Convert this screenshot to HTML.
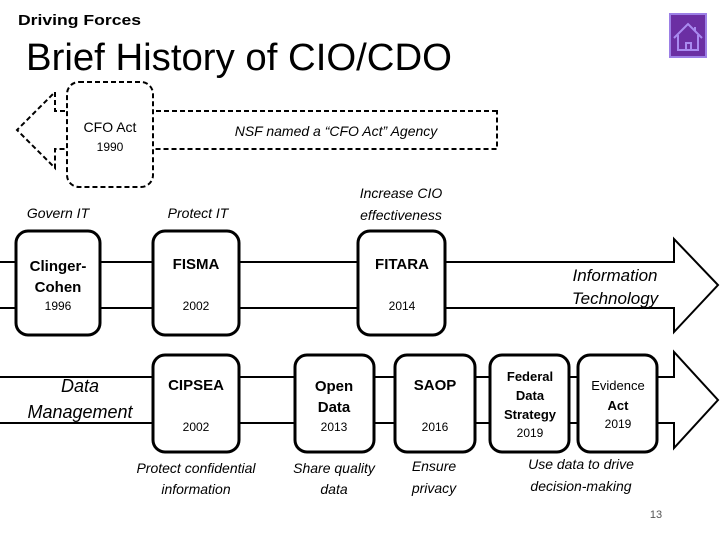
<!DOCTYPE html>
<html><head><meta charset="utf-8"><style>
html,body{margin:0;padding:0;background:#fff}
svg{display:block}
text{font-family:"Liberation Sans",sans-serif;fill:#000}
.i{font-style:italic}
.b{font-weight:bold}
</style></head><body>
<svg width="720" height="540" viewBox="0 0 720 540" xmlns="http://www.w3.org/2000/svg">
<text x="18" y="25" class="b" font-size="15" textLength="123" lengthAdjust="spacingAndGlyphs">Driving Forces</text>
<text x="26" y="70" font-size="38" textLength="426" lengthAdjust="spacingAndGlyphs">Brief History of CIO/CDO</text>
<rect x="670" y="14" width="36" height="43" fill="#6b2fa3" stroke="#9c7fe6" stroke-width="2"/>
<path d="M674 38 L688 24 L702 38 M678 35 V50 H698 V35 M686 50 V43 H691 V50 M695 27 V31" fill="none" stroke="#a98af0" stroke-width="2"/>

<path d="M497 111 H55 V92 L17 130 L55 168 V149 H497 Z" fill="#fff" stroke="#000" stroke-width="2" stroke-dasharray="5,3"/>
<rect x="67" y="82" width="86" height="105" rx="12" fill="#fff" stroke="#000" stroke-width="2" stroke-dasharray="5,3"/>
<text x="110" y="132" font-size="14" text-anchor="middle">CFO Act</text>
<text x="110" y="151" font-size="12" text-anchor="middle">1990</text>
<text x="336" y="136" font-size="14" class="i" text-anchor="middle">NSF named a “CFO Act” Agency</text>

<text x="58" y="218" class="i" font-size="14" text-anchor="middle">Govern IT</text>
<text x="198" y="218" class="i" font-size="14" text-anchor="middle">Protect IT</text>
<text x="401" y="198" class="i" font-size="14" text-anchor="middle">Increase CIO</text>
<text x="401" y="220" class="i" font-size="14" text-anchor="middle">effectiveness</text>

<path d="M0 262 H674 V239 L718 285 L674 332 V308 H0" fill="#fff" stroke="#000" stroke-width="2"/>
<rect x="16" y="231" width="84" height="104" rx="12" fill="#fff" stroke="#000" stroke-width="3"/>
<rect x="153" y="231" width="86" height="104" rx="12" fill="#fff" stroke="#000" stroke-width="3"/>
<rect x="358" y="231" width="87" height="104" rx="12" fill="#fff" stroke="#000" stroke-width="3"/>
<text x="58" y="271" font-size="15" class="b" text-anchor="middle">Clinger-</text>
<text x="58" y="292" font-size="15" class="b" text-anchor="middle">Cohen</text>
<text x="58" y="310" font-size="12" text-anchor="middle">1996</text>
<text x="196" y="269" font-size="15" class="b" text-anchor="middle">FISMA</text>
<text x="196" y="310" font-size="12" text-anchor="middle">2002</text>
<text x="402" y="269" font-size="15" class="b" text-anchor="middle">FITARA</text>
<text x="402" y="310" font-size="12" text-anchor="middle">2014</text>
<text x="615" y="281" font-size="17" class="i" text-anchor="middle">Information</text>
<text x="615" y="304" font-size="17" class="i" text-anchor="middle">Technology</text>

<path d="M0 377 H674 V352 L718 400 L674 448 V423 H0" fill="#fff" stroke="#000" stroke-width="2"/>
<rect x="153" y="355" width="86" height="97" rx="12" fill="#fff" stroke="#000" stroke-width="3"/>
<rect x="295" y="355" width="79" height="97" rx="12" fill="#fff" stroke="#000" stroke-width="3"/>
<rect x="395" y="355" width="80" height="97" rx="12" fill="#fff" stroke="#000" stroke-width="3"/>
<rect x="490" y="355" width="79" height="97" rx="12" fill="#fff" stroke="#000" stroke-width="3"/>
<rect x="578" y="355" width="79" height="97" rx="12" fill="#fff" stroke="#000" stroke-width="3"/>
<text x="80" y="392" font-size="18" class="i" text-anchor="middle">Data</text>
<text x="80" y="418" font-size="18" class="i" text-anchor="middle">Management</text>
<text x="196" y="390" font-size="15" class="b" text-anchor="middle">CIPSEA</text>
<text x="196" y="431" font-size="12" text-anchor="middle">2002</text>
<text x="334" y="391" font-size="15" class="b" text-anchor="middle">Open</text>
<text x="334" y="412" font-size="15" class="b" text-anchor="middle">Data</text>
<text x="334" y="431" font-size="12" text-anchor="middle">2013</text>
<text x="435" y="390" font-size="15" class="b" text-anchor="middle">SAOP</text>
<text x="435" y="431" font-size="12" text-anchor="middle">2016</text>
<text x="530" y="381" font-size="13" class="b" text-anchor="middle">Federal</text>
<text x="530" y="400" font-size="13" class="b" text-anchor="middle">Data</text>
<text x="530" y="419" font-size="13" class="b" text-anchor="middle">Strategy</text>
<text x="530" y="437" font-size="12" text-anchor="middle">2019</text>
<text x="618" y="390" font-size="13" text-anchor="middle">Evidence</text>
<text x="618" y="410" font-size="13" class="b" text-anchor="middle">Act</text>
<text x="618" y="428" font-size="12" text-anchor="middle">2019</text>

<text x="196" y="473" font-size="14" class="i" text-anchor="middle">Protect confidential</text>
<text x="196" y="494" font-size="14" class="i" text-anchor="middle">information</text>
<text x="334" y="473" font-size="14" class="i" text-anchor="middle">Share quality</text>
<text x="334" y="494" font-size="14" class="i" text-anchor="middle">data</text>
<text x="434" y="471" font-size="14" class="i" text-anchor="middle">Ensure</text>
<text x="434" y="493" font-size="14" class="i" text-anchor="middle">privacy</text>
<text x="581" y="469" font-size="14" class="i" text-anchor="middle">Use data to drive</text>
<text x="581" y="491" font-size="14" class="i" text-anchor="middle">decision-making</text>
<text x="656" y="518" font-size="11" text-anchor="middle" style="fill:#555">13</text>
</svg>
</body></html>
